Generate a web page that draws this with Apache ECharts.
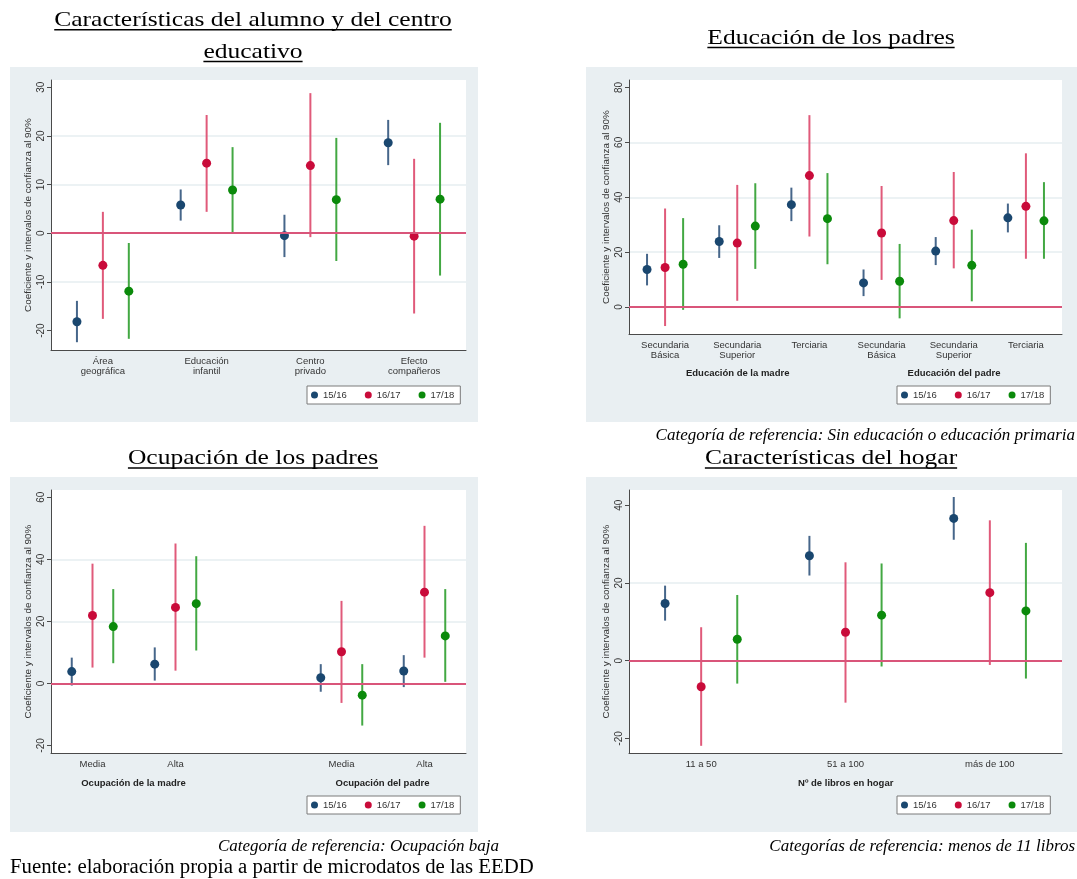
<!DOCTYPE html>
<html>
<head>
<meta charset="utf-8">
<script src="https://cdn.jsdelivr.net/npm/echarts@6/dist/echarts.min.js"></script>
<style>
  html, body { margin: 0; padding: 0; background: #ffffff; }
  #chart { width: 1077px; height: 879px; }
</style>
</head>
<body>
<div id="chart"></div>
<script>
// ---- Data: coefficients and 90% confidence bounds, one row per school year ----
const years = ['15/16', '16/17', '17/18'];

// Panel 1: Características del alumno y del centro educativo
const cats1 = ['Área\ngeográfica', 'Educación\ninfantil', 'Centro\nprivado', 'Efecto\ncompañeros'];
const pos1 = [0, 1, 2, 3];
const coef1 = [[-18.2, 5.8, -0.5, 18.6], [-6.6, 14.4, 13.9, -0.6], [-11.9, 8.9, 6.9, 7.0]];
const low1  = [[-22.4, 2.6, -4.9, 14.0], [-17.6, 4.4, -0.8, -16.5], [-21.7, 0.1, -5.7, -8.7]];
const high1 = [[-13.9, 9.0, 3.8, 23.3], [4.4, 24.3, 28.8, 15.3], [-2.0, 17.7, 19.6, 22.7]];
const yTicks1 = [-20, -10, 0, 10, 20, 30];

// Panel 2: Educación de los padres
const cats2 = ['Secundaria\nBásica', 'Secundaria\nSuperior', 'Terciaria', 'Secundaria\nBásica', 'Secundaria\nSuperior', 'Terciaria'];
const pos2 = [0, 1, 2, 3, 4, 5];
const coef2 = [[13.7, 23.9, 37.3, 8.8, 20.4, 32.5], [14.4, 23.3, 47.9, 27.0, 31.5, 36.7], [15.6, 29.5, 32.2, 9.4, 15.2, 31.4]];
const low2  = [[7.9, 17.9, 31.3, 4.0, 15.3, 27.2], [-6.9, 2.3, 25.7, 9.9, 14.1, 17.6], [-1.0, 13.9, 15.6, -4.1, 2.1, 17.6]];
const high2 = [[19.4, 29.8, 43.5, 13.7, 25.5, 37.7], [35.9, 44.5, 69.9, 44.1, 49.2, 56.0], [32.4, 45.1, 48.8, 23.0, 28.2, 45.5]];
const yTicks2 = [0, 20, 40, 60, 80];

// Panel 3: Ocupación de los padres (empty slot separates mother / father)
const cats3 = ['Media', 'Alta', '', 'Media', 'Alta'];
const pos3 = [0, 1, 3, 4];
const coef3 = [[3.8, 6.2, 1.8, 4.0], [21.9, 24.5, 10.2, 29.4], [18.3, 25.7, -3.8, 15.3]];
const low3  = [[-0.7, 0.9, -2.7, -1.2], [5.1, 4.1, -6.3, 8.3], [6.5, 10.6, -13.6, 0.5]];
const high3 = [[8.3, 11.6, 6.2, 9.1], [38.6, 45.1, 26.6, 50.8], [30.4, 41.0, 6.2, 30.4]];
const yTicks3 = [-20, 0, 20, 40, 60];

// Panel 4: Características del hogar
const cats4 = ['11 a 50', '51 a 100', 'más de 100'];
const pos4 = [0, 1, 2];
const coef4 = [[14.7, 27.0, 36.6], [-6.7, 7.3, 17.5], [5.5, 11.7, 12.8]];
const low4  = [[10.3, 21.9, 31.1], [-21.9, -10.8, -1.1], [-5.9, -1.5, -4.6]];
const high4 = [[19.3, 32.1, 42.1], [8.6, 25.3, 36.1], [16.9, 25.0, 30.3]];
const yTicks4 = [-20, 0, 20, 40];

// ---- Styling ----
const dotColors = ['#1a476f', '#c90b3a', '#0b8a0b'];
const barColors = ['#46668a', '#e05a7a', '#43a843'];
const offsets = [-0.25, 0, 0.25];
const zeroColor = '#d9557a';
const sans = '"Liberation Sans", Arial, sans-serif';
const serif = '"Liberation Serif", "Times New Roman", serif';
const yName = 'Coeficiente y intervalos de confianza al 90%';

const panels = [
  { cats: cats1, pos: pos1, coef: coef1, low: low1, high: high1, ticks: yTicks1, min: -24, max: 31.5,
    grid: { left: 51, top: 80, width: 415, height: 270 }, legend: { left: 307, top: 386 } },
  { cats: cats2, pos: pos2, coef: coef2, low: low2, high: high2, ticks: yTicks2, min: -9.8, max: 82.7,
    grid: { left: 629, top: 80, width: 433, height: 254 }, legend: { left: 897, top: 386 } },
  { cats: cats3, pos: pos3, coef: coef3, low: low3, high: high3, ticks: yTicks3, min: -22.45, max: 62.35,
    grid: { left: 51, top: 490, width: 415, height: 263 }, legend: { left: 307, top: 796 } },
  { cats: cats4, pos: pos4, coef: coef4, low: low4, high: high4, ticks: yTicks4, min: -23.75, max: 43.9,
    grid: { left: 629, top: 490, width: 433, height: 263 }, legend: { left: 897, top: 796 } }
];

const grids = [], xAxes = [], yAxes = [], series = [], legends = [];

panels.forEach((p, i) => {
  grids.push(Object.assign({ show: true, backgroundColor: '#ffffff', borderWidth: 0 }, p.grid));
  xAxes.push({
    gridIndex: i, type: 'category', data: p.cats, boundaryGap: true,
    axisLine: { onZero: false, lineStyle: { color: '#4a4a4a', width: 1 } },
    axisTick: { alignWithLabel: true, length: 4, lineStyle: { color: '#4a4a4a' },
                interval: (idx, val) => val !== '' },
    axisLabel: { interval: 0, fontSize: 9.5, color: '#333', lineHeight: 10, margin: 6, fontFamily: sans },
    splitLine: { show: false }
  });
  yAxes.push({
    gridIndex: i, type: 'value', min: p.min, max: p.max,
    axisLine: { show: true, lineStyle: { color: '#4a4a4a', width: 1 } },
    axisTick: { show: true, length: 4, lineStyle: { color: '#4a4a4a' }, customValues: p.ticks },
    axisLabel: { customValues: p.ticks, rotate: 90, fontSize: 10, color: '#333', margin: 5, fontFamily: sans },
    splitLine: { show: true, showMinLine: false, showMaxLine: false, lineStyle: { color: '#e6eef0', width: 1.5 } },
    name: yName, nameLocation: 'middle', nameGap: 18,
    nameTextStyle: { fontSize: 9.9, color: '#333', fontFamily: sans }
  });
  legends.push({
    left: p.legend.left, top: p.legend.top, orient: 'horizontal', data: years, icon: 'circle',
    itemWidth: 7, itemHeight: 7, itemGap: 18, padding: [4, 6, 4, 4],
    borderColor: '#7a7a7a', borderWidth: 1, backgroundColor: '#ffffff',
    textStyle: { fontSize: 9.5, color: '#333', fontFamily: sans }
  });
  years.forEach((y, k) => {
    series.push({
      type: 'custom', name: y, xAxisIndex: i, yAxisIndex: i,
      itemStyle: { color: dotColors[k] },
      encode: { x: 0, y: [1, 2, 3] },
      data: p.pos.map((c, j) => [c, p.coef[k][j], p.low[k][j], p.high[k][j]]),
      z: 3,
      renderItem: (params, api) => {
        const band = api.size([1, 0])[0];
        const x = api.coord([api.value(0), 0])[0] + offsets[k] * band;
        const yc = api.coord([api.value(0), api.value(1)])[1];
        const yl = api.coord([api.value(0), api.value(2)])[1];
        const yh = api.coord([api.value(0), api.value(3)])[1];
        return {
          type: 'group',
          children: [
            { type: 'line', shape: { x1: x, y1: yl, x2: x, y2: yh }, style: { stroke: barColors[k], lineWidth: 2 } },
            { type: 'circle', shape: { cx: x, cy: yc, r: 4.5 }, style: { fill: dotColors[k] } }
          ]
        };
      },
      markLine: k === 0 ? {
        silent: true, symbol: ['none', 'none'], label: { show: false },
        lineStyle: { color: zeroColor, width: 2, type: 'solid' },
        data: [{ yAxis: 0 }]
      } : undefined
    });
  });
});

// ---- Titles, group labels and notes ----
const measureCtx = document.createElement('canvas').getContext('2d');
function textWidth(str, font) { measureCtx.font = font; return measureCtx.measureText(str).width; }

const graphics = [];
// panel backgrounds
[[10, 67, 468, 355], [586, 67, 491, 355], [10, 477, 468, 355], [586, 477, 491, 355]].forEach(r => {
  graphics.push({ type: 'rect', z: -10, shape: { x: r[0], y: r[1], width: r[2], height: r[3] },
                  style: { fill: '#e9eff2' }, silent: true });
});

// underlined panel titles, slightly widened serif
const titleSize = 22;
const titleStretch = 1.16;
function addTitle(str, cx, baseline) {
  const font = titleSize + 'px ' + serif;
  const w = textWidth(str, font) * titleStretch;
  graphics.push({ type: 'text', x: cx, y: baseline + 3.7, scaleX: titleStretch, silent: true,
    style: { text: str, font: font, fill: '#000', align: 'center', textAlign: 'center',
             verticalAlign: 'bottom', textVerticalAlign: 'bottom' } });
  graphics.push({ type: 'line', silent: true,
    shape: { x1: cx - w / 2, y1: baseline + 2, x2: cx + w / 2, y2: baseline + 2 },
    style: { stroke: '#000', lineWidth: 1.5 } });
}
addTitle('Características del alumno y del centro', 253, 27.7);
addTitle('educativo', 253, 59.5);
addTitle('Educación de los padres', 831, 45.5);
addTitle('Ocupación de los padres', 253, 466);
addTitle('Características del hogar', 831, 466);

function addText(str, x, y, opts) {
  graphics.push({ type: 'text', x: x, y: y, silent: true,
    style: Object.assign({ text: str, fill: '#000', verticalAlign: 'middle', textVerticalAlign: 'middle' }, opts) });
}
const groupFont = 'bold 9.5px ' + sans;
addText('Educación de la madre', 737.7, 373, { font: groupFont, fill: '#222', align: 'center', textAlign: 'center' });
addText('Educación del padre', 954, 373, { font: groupFont, fill: '#222', align: 'center', textAlign: 'center' });
addText('Ocupación de la madre', 133.5, 783, { font: groupFont, fill: '#222', align: 'center', textAlign: 'center' });
addText('Ocupación del padre', 382.5, 783, { font: groupFont, fill: '#222', align: 'center', textAlign: 'center' });
addText('Nº de libros en hogar', 845.7, 783, { font: groupFont, fill: '#222', align: 'center', textAlign: 'center' });

const noteFont = 'italic 17px ' + serif;
addText('Categoría de referencia: Sin educación o educación primaria', 1075, 436, { font: noteFont, align: 'right', textAlign: 'right' });
addText('Categoría de referencia: Ocupación baja', 499, 847, { font: noteFont, align: 'right', textAlign: 'right' });
addText('Categorías de referencia: menos de 11 libros', 1075, 847, { font: noteFont, align: 'right', textAlign: 'right' });
addText('Fuente: elaboración propia a partir de microdatos de las EEDD', 10, 868, { font: '20.8px ' + serif, align: 'left', textAlign: 'left' });

const chart = echarts.init(document.getElementById('chart'), null, { renderer: 'canvas' });
chart.setOption({
  backgroundColor: '#ffffff',
  animation: false,
  grid: grids,
  xAxis: xAxes,
  yAxis: yAxes,
  legend: legends,
  series: series,
  graphic: { elements: graphics }
});
</script>
</body>
</html>
